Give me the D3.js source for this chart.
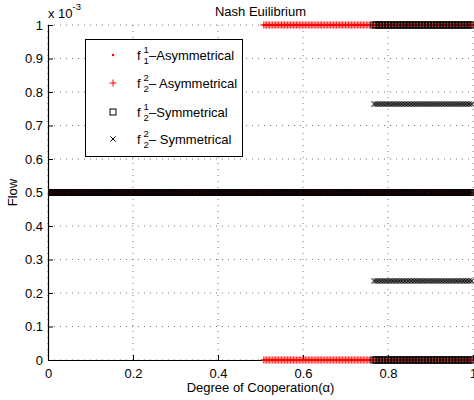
<!DOCTYPE html>
<html>
<head>
<meta charset="utf-8">
<script src="https://cdn.jsdelivr.net/npm/d3@7"></script>
<style>
  html, body { margin: 0; padding: 0; background: #fff; }
  svg text { font-family: "Liberation Sans", Arial, Helvetica, sans-serif; fill: #000; }
</style>
</head>
<body>
<svg id="chart" width="474" height="400"></svg>
<script>
// ---------- data (flow in units of 1e-3) ----------
const alphaStep = 0.0035;                // sampling step of degree of cooperation
const xTicks = [0, 0.2, 0.4, 0.6, 0.8, 1];
const xTickLabels = ["0", "0.2", "0.4", "0.6", "0.8", "1"];
const yTicks = [0, 0.1, 0.2, 0.3, 0.4, 0.5, 0.6, 0.7, 0.8, 0.9, 1];
const yTickLabels = ["0", "0.1", "0.2", "0.3", "0.4", "0.5", "0.6", "0.7", "0.8", "0.9", "1"];

// equilibrium branches: alpha range [from, to] and flow value
const asym11From = [0, 0.505, 0.505];
const asym11To = [1, 1, 1];
const asym11Value = [0.5, 1, 0];

const asym22From = [0, 0.505, 0.505];
const asym22To = [1, 1, 1];
const asym22Value = [0.5, 1, 0];

const sym21From = [0, 0.764, 0.764];
const sym21To = [1, 1, 1];
const sym21Value = [0.5, 1, 0];

const sym22From = [0, 0.764, 0.764];
const sym22To = [1, 1, 1];
const sym22Value = [0.5, 0.764, 0.236];

(function () {
// ---------- layout ----------
const svg = d3.select("#chart");
const pL = 48, pR = 473, pT = 25, pB = 360;
const x = d3.scaleLinear().domain([0, 1]).range([pL, pR]);
const y = d3.scaleLinear().domain([0, 1]).range([pB, pT]);

const alphas = d3.range(0, 1 + 1e-9, alphaStep);
function expand(from, to, value) {
  const pts = [];
  from.forEach((f, i) => {
    alphas.forEach(a => { if (a >= f - 1e-9 && a <= to[i] + 1e-9) pts.push([a, value[i]]); });
  });
  return pts;
}

// grid
const grid = svg.append("g");
grid.selectAll(".gx").data(xTicks).join("line")
  .attr("x1", d => x(d)).attr("x2", d => x(d)).attr("y1", pT).attr("y2", pB)
  .attr("stroke", "#777").attr("stroke-width", 1).attr("stroke-dasharray", "1,5");
grid.selectAll(".gy").data(yTicks).join("line")
  .attr("x1", pL).attr("x2", pR).attr("y1", d => y(d)).attr("y2", d => y(d))
  .attr("stroke", "#777").attr("stroke-width", 1).attr("stroke-dasharray", "1,5");

// axes
const xAxis = d3.axisBottom(x).tickValues(xTicks).tickFormat((d, i) => xTickLabels[i])
  .tickSizeInner(-5).tickSizeOuter(0).tickPadding(9);
const yAxis = d3.axisLeft(y).tickValues(yTicks).tickFormat((d, i) => yTickLabels[i])
  .tickSizeInner(-5).tickSizeOuter(0).tickPadding(5);
const gx = svg.append("g").attr("transform", `translate(0,${pB})`).call(xAxis);
const gy = svg.append("g").attr("transform", `translate(${pL},0)`).call(yAxis);
[gx, gy].forEach(g => {
  g.select(".domain").attr("stroke", "#000").attr("stroke-width", 1.2);
  g.selectAll(".tick line").attr("stroke", "#000");
  g.selectAll(".tick text").attr("font-size", 13).attr("fill", "#000")
    .style("font-family", '"Liberation Sans", Arial, Helvetica, sans-serif');
});
gx.selectAll(".tick text").attr("dy", "0.71em");

// labels
svg.append("text").attr("x", (pL + pR) / 2).attr("y", 16).attr("text-anchor", "middle")
  .attr("font-size", 13).text("Nash Euilibrium");
svg.append("text").attr("x", (pL + pR) / 2).attr("y", 392).attr("text-anchor", "middle")
  .attr("font-size", 13).text("Degree of Cooperation(α)");
svg.append("text").attr("transform", `translate(17,${(pT + pB) / 2}) rotate(-90)`)
  .attr("text-anchor", "middle").attr("font-size", 13).text("Flow");
svg.append("text").attr("x", 48).attr("y", 18).attr("font-size", 13).text("x 10");
svg.append("text").attr("x", 72.5).attr("y", 10).attr("font-size", 9.5).text("-3");

// markers
svg.append("clipPath").attr("id", "clipx").append("rect")
  .attr("x", pL).attr("y", 0).attr("width", 474 - pL).attr("height", 400);
const plot = svg.append("g").attr("clip-path", "url(#clipx)");

const plusPath = "M-3.5,0H3.5M0,-3.5V3.5";
const xPath = "M-2.6,-2.6L2.6,2.6M-2.6,2.6L2.6,-2.6";

plot.append("g").selectAll("circle").data(expand(asym11From, asym11To, asym11Value)).join("circle")
  .attr("cx", d => x(d[0])).attr("cy", d => y(d[1])).attr("r", 1.1).attr("fill", "#ff0000");
plot.append("g").selectAll("path").data(expand(asym22From, asym22To, asym22Value)).join("path")
  .attr("transform", d => `translate(${x(d[0])},${y(d[1])})`).attr("d", plusPath)
  .attr("stroke", "#ff0000").attr("stroke-width", 0.9).attr("fill", "none");
plot.append("g").selectAll("rect").data(expand(sym21From, sym21To, sym21Value)).join("rect")
  .attr("x", d => x(d[0]) - 3).attr("y", d => y(d[1]) - 3).attr("width", 6).attr("height", 6)
  .attr("stroke", "#000").attr("stroke-width", 0.7).attr("fill", "none");
plot.append("g").selectAll("path").data(expand(sym22From, sym22To, sym22Value)).join("path")
  .attr("transform", d => `translate(${x(d[0])},${y(d[1])})`).attr("d", xPath)
  .attr("stroke", "#000").attr("stroke-width", 0.8).attr("fill", "none");

// legend
const lg = svg.append("g");
lg.append("rect").attr("x", 85.5).attr("y", 39.5).attr("width", 157).attr("height", 117)
  .attr("fill", "#fff").attr("stroke", "#000").attr("stroke-width", 1);
const rowsY = [55, 83, 112, 139];
const legSup = ["1", "2", "1", "2"];
const legSub = ["1", "2", "2", "2"];
const legText = ["–Asymmetrical", "– Asymmetrical", "–Symmetrical", "– Symmetrical"];
const mx = 113;
lg.append("circle").attr("cx", mx).attr("cy", rowsY[0]).attr("r", 1.2).attr("fill", "#ff0000");
lg.append("path").attr("transform", `translate(${mx},${rowsY[1]})`).attr("d", plusPath)
  .attr("stroke", "#ff0000").attr("stroke-width", 1).attr("fill", "none");
lg.append("rect").attr("x", mx - 3).attr("y", rowsY[2] - 3).attr("width", 6).attr("height", 6)
  .attr("stroke", "#000").attr("stroke-width", 1).attr("fill", "none");
lg.append("path").attr("transform", `translate(${mx},${rowsY[3]})`).attr("d", xPath)
  .attr("stroke", "#000").attr("stroke-width", 1).attr("fill", "none");
rowsY.forEach((ry, i) => {
  lg.append("text").attr("x", 137).attr("y", ry + 5).attr("font-size", 13).text("f");
  lg.append("text").attr("x", 143.5).attr("y", ry - 2).attr("font-size", 9.5).text(legSup[i]);
  lg.append("text").attr("x", 143.5).attr("y", ry + 8.5).attr("font-size", 9.5).text(legSub[i]);
  lg.append("text").attr("x", 149).attr("y", ry + 5).attr("font-size", 13).text(legText[i]);
});
})();
</script>
</body>
</html>
